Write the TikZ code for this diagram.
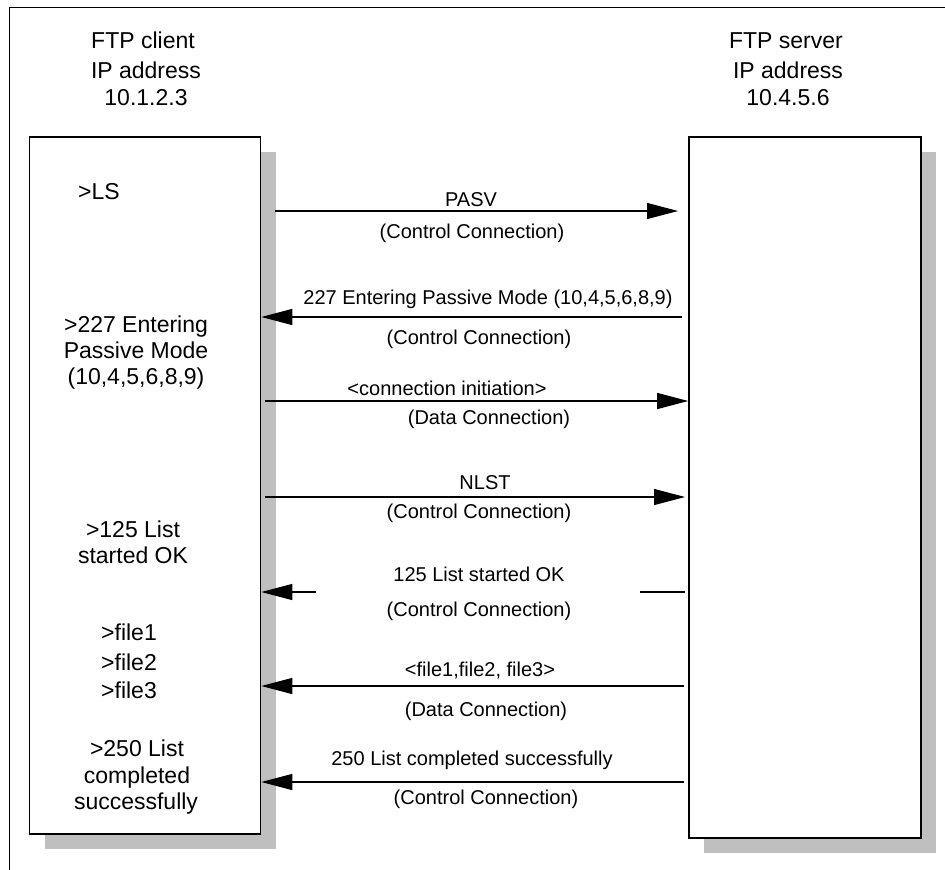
\documentclass[tikz,border=0pt]{standalone}
\usepackage{fontspec}
\setmainfont{Liberation Sans}
\usetikzlibrary{arrows.meta,shadows}
\begin{document}
\begin{tikzpicture}[x=1pt,y=-1pt,
  box/.style={draw=black, line width=1.6pt, fill=white, inner sep=0pt,
    drop shadow={shadow xshift=15pt, shadow yshift=-15pt, fill=black!25, opacity=1}},
  big/.style={font=\fontsize{23}{27}\selectfont, inner sep=0pt, anchor=base},
  lbl/.style={font=\fontsize{20}{24}\selectfont, inner sep=0pt, anchor=base},
  msg/.style={line width=1.2pt, -{Triangle[length=31pt,width=16pt]}},
  plainline/.style={line width=1.2pt}]
\useasboundingbox (0,0) rectangle (945,870);
\fill[white] (0,0) rectangle (945,870);
\draw[line width=1pt] (9,870) -- (9,7) -- (945,7);

% boxes
\node[box, minimum width=231pt, minimum height=697pt] (client) at (145,485.5) {};
\node[box, minimum width=232pt, minimum height=701pt] (server) at (805,487.5) {};

% headers
\node[big] (c1) at (143,48) {FTP client};
\node[big] (c2) at (146,78) {IP address};
\node[big] (c3) at (146,105) {10.1.2.3};
\node[big] (s1) at (786,48) {FTP server};
\node[big] (s2) at (788,78) {IP address};
\node[big] (s3) at (788,105) {10.4.5.6};

% client texts
\node[big] (t1) at (99,199) {>LS};
\node[big] (t2a) at (136,332) {>227 Entering};
\node[big] (t2b) at (136,358) {Passive Mode};
\node[big] (t2c) at (136,384) {(10,4,5,6,8,9)};
\node[big] (t3a) at (133,537) {>125 List};
\node[big] (t3b) at (133,563) {started OK};
\node[big] (t4a) at (129,640) {>file1};
\node[big] (t4b) at (129,670) {>file2};
\node[big] (t4c) at (129,698) {>file3};
\node[big] (t5a) at (137,756) {>250 List};
\node[big] (t5b) at (137,783) {completed};
\node[big] (t5c) at (136,809) {successfully};

% arrows
\coordinate (a1) at (275,211); \coordinate (b1) at (678,211);
\draw[msg] (a1) -- (b1);
\coordinate (a2) at (682,317);
\draw[msg] (a2) -- (client.east |- a2);
\coordinate (a3) at (265,401);
\draw[msg] (a3) -- (server.west |- a3);
\coordinate (a4) at (265,497); \coordinate (b4) at (685,497);
\draw[msg] (a4) -- (b4);
\coordinate (a5) at (316,592);
\draw[msg] (a5) -- (client.east |- a5);
\coordinate (c5) at (640,592); \coordinate (d5) at (685,592);
\draw[plainline] (c5) -- (d5);
\coordinate (a6) at (684,686);
\draw[msg] (a6) -- (client.east |- a6);
\coordinate (a7) at (684,782);
\draw[msg] (a7) -- (client.east |- a7);

% labels
\node[lbl] (m1a) at (471,206) {PASV};
\node[lbl] (m1b) at (472,238) {(Control Connection)};
\node[lbl] (m2a) at (488,304) {227 Entering Passive Mode (10,4,5,6,8,9)};
\node[lbl] (m2b) at (479,344) {(Control Connection)};
\node[lbl] (m3a) at (447,395) {<connection initiation>};
\node[lbl] (m3b) at (489,424) {(Data Connection)};
\node[lbl] (m4a) at (485,489) {NLST};
\node[lbl] (m4b) at (479,518) {(Control Connection)};
\node[lbl] (m5a) at (479,581) {125 List started OK};
\node[lbl] (m5b) at (479,616) {(Control Connection)};
\node[lbl] (m6a) at (480,676) {<file1,file2, file3>};
\node[lbl] (m6b) at (486,716) {(Data Connection)};
\node[lbl] (m7a) at (472,765) {250 List completed successfully};
\node[lbl] (m7b) at (486,804) {(Control Connection)};
\end{tikzpicture}
\end{document}
